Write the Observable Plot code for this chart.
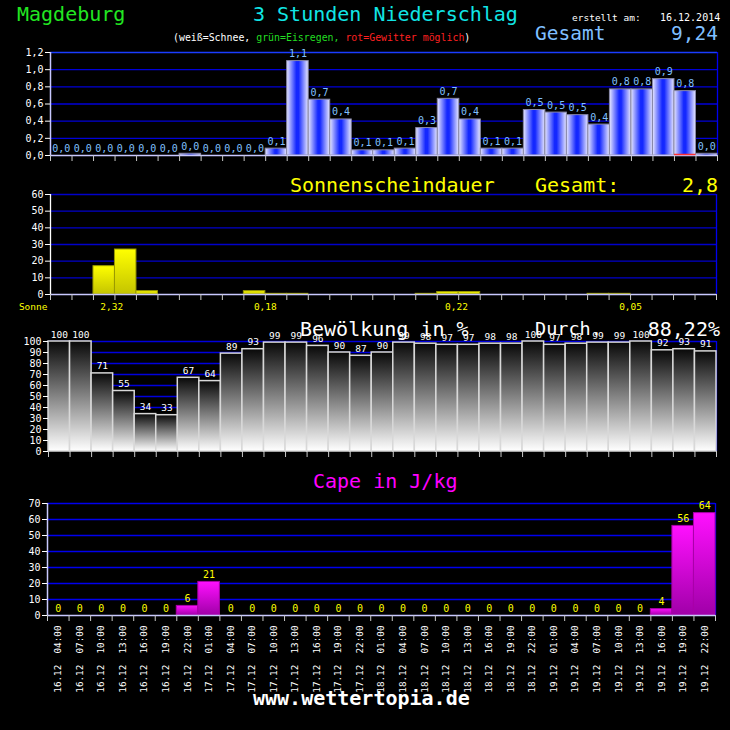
<!DOCTYPE html>
<html><head><meta charset="utf-8">
<script src="https://cdn.jsdelivr.net/npm/d3@7"></script>
<script src="https://cdn.jsdelivr.net/npm/@observablehq/plot@0.6"></script>
<style>
html,body{margin:0;padding:0;background:#000;}
#root{position:relative;width:730px;height:730px;background:#000;overflow:hidden;font-family:"DejaVu Sans Mono",monospace;}
.t{position:absolute;white-space:pre;line-height:1;font-family:"DejaVu Sans Mono",monospace;}
</style></head><body><div id="root"></div>
<script>
// ---- data ----
const times = [
 "16.12 04:00","16.12 07:00","16.12 10:00","16.12 13:00","16.12 16:00","16.12 19:00","16.12 22:00",
 "17.12 01:00","17.12 04:00","17.12 07:00","17.12 10:00","17.12 13:00","17.12 16:00","17.12 19:00","17.12 22:00",
 "18.12 01:00","18.12 04:00","18.12 07:00","18.12 10:00","18.12 13:00","18.12 16:00","18.12 19:00","18.12 22:00",
 "19.12 01:00","19.12 04:00","19.12 07:00","19.12 10:00","19.12 13:00","19.12 16:00","19.12 19:00","19.12 22:00"];
const precip = [0,0,0,0,0,0,0.02,0,0,0,0.08,1.1,0.65,0.42,0.06,0.06,0.08,0.32,0.66,0.42,0.08,0.08,0.53,0.5,0.47,0.36,0.77,0.77,0.89,0.75,0.02];
const gewitter = [29];
const sunshine = [0,0,17,27,2,0,0,0,0,2,0.4,0.4,0,0,0,0,0,0.4,1.5,1.5,0,0,0,0,0,0.4,0.4,0,0,0,0];
const sunDayLabels = ["2,32","0,18","0,22","0,05"];
const sunDayAt = [2.85, 10, 18.9, 27];
const cloud = [100,100,71,55,34,33,67,64,89,93,99,99,96,90,87,90,99,98,97,97,98,98,100,97,98,99,99,100,92,93,91];
const cape = [0,0,0,0,0,0,6,21,0,0,0,0,0,0,0,0,0,0,0,0,0,0,0,0,0,0,0,0,4,56,64];
const precipTicks = [0,0.2,0.4,0.6,0.8,1.0,1.2];
const sunTicks = [0,10,20,30,40,50,60];
const cloudTicks = [0,10,20,30,40,50,60,70,80,90,100];
const capeTicks = [0,10,20,30,40,50,60,70];

// ---- helpers ----
const root = document.getElementById("root");
const n = times.length;
const edges = d3.range(n + 1);
const fmt1 = v => (Math.round(v * 10) / 10).toFixed(1).replace(".", ",");
const common = {width: 730, style: {background: "transparent", color: "white", fontFamily: "DejaVu Sans Mono, monospace", fontSize: "10px", overflow: "visible"}};
function place(svg, top, defs) {
  svg.style.position = "absolute"; svg.style.left = "0px"; svg.style.top = top + "px";
  d3.select(svg).insert("defs", ":first-child").html(defs);
  root.appendChild(svg);
}
function label(html, x, base, size, color, opts = {}) {
  const d = document.createElement("div");
  d.className = "t"; d.innerHTML = html;
  d.style.fontSize = size + "px"; d.style.color = color;
  d.style.top = (base - 0.846 * size) + "px";
  d.style.left = x + "px";
  if (opts.right) d.style.transform = "translateX(-100%)";
  if (opts.bold) d.style.fontWeight = "bold";
  root.appendChild(d);
}
const x1 = (d, i) => i, x2 = (d, i) => i + 1, xc = (d, i) => i + 0.5;
const edgeAxis = () => Plot.axisX({ticks: edges, tickFormat: () => "", tickSize: 6, stroke: "#c8c8c8", label: null});

// ---- precipitation ----
const p1 = Plot.plot({...common, height: 125, marginTop: 12, marginBottom: 10, marginLeft: 50, marginRight: 13,
  x: {domain: [0, n]}, y: {domain: [0, d3.max(precipTicks)]},
  marks: [
    Plot.ruleY(precipTicks.slice(1, -1), {stroke: "#0000d8", strokeWidth: 1.3}),
    Plot.ruleY(precipTicks.slice(-1), {stroke: "#1a3cff", strokeWidth: 1.5}),
    Plot.ruleX([n], {stroke: "#0000ee", strokeWidth: 1.3}),
    Plot.rectY(precip, {x1, x2, y1: 0, y2: d => d, filter: d => d > 0, fill: "url(#gp)", stroke: "#8888a8", strokeWidth: 1}),
    Plot.ruleY([0], {stroke: "#c8c8ff", strokeWidth: 1.5}),
    Plot.ruleY(gewitter, {y: 0, x1: i => i, x2: i => i + 1, stroke: "#ff3030", strokeWidth: 1.5, dy: -1}),
    Plot.ruleX([0], {stroke: "#c8c8ff", strokeWidth: 1.5}),
    Plot.axisY({ticks: precipTicks, tickFormat: fmt1, tickSize: 5, tickPadding: 2, stroke: "white", fill: "white", label: null}),
    edgeAxis(),
    Plot.text(precip, {x: xc, y: d => d, text: fmt1, dy: -4, lineAnchor: "bottom", fill: "#80c0ff", fontSize: 10})
  ]});
place(p1, 40, `<linearGradient id="gp" x1="0" x2="1" y1="0" y2="0">
  <stop offset="0" stop-color="#e8e8ff"/><stop offset="0.45" stop-color="#1428ff"/>
  <stop offset="0.55" stop-color="#1428ff"/><stop offset="1" stop-color="#e8e8ff"/></linearGradient>`);

// ---- sunshine ----
const p2 = Plot.plot({...common, height: 130, marginTop: 9, marginBottom: 21, marginLeft: 50, marginRight: 14,
  x: {domain: [0, n]}, y: {domain: [0, d3.max(sunTicks)]},
  marks: [
    Plot.ruleY(sunTicks.slice(1), {stroke: "#0000cc", strokeWidth: 1.3}),
    Plot.ruleX([n], {stroke: "#0000ee", strokeWidth: 1.3}),
    Plot.rectY(sunshine, {x1, x2, y1: 0, y2: d => d, filter: d => d > 0, fill: "url(#gs)", stroke: "#9a9a00", strokeWidth: 1}),
    Plot.ruleY([0], {stroke: "#c8c8ff", strokeWidth: 1.5}),
    Plot.ruleX([0], {stroke: "white", strokeWidth: 1.3}),
    Plot.axisY({ticks: sunTicks, tickSize: 5, tickPadding: 2, stroke: "white", fill: "white", label: null}),
    edgeAxis(),
    Plot.text(sunDayLabels, {x: (d, i) => sunDayAt[i], text: d => d, frameAnchor: "bottom", dy: 15, fill: "#ffff00", fontSize: 9.5}),
    Plot.text(["Sonne"], {text: d => d, frameAnchor: "bottom-left", dx: -3, dy: 15, textAnchor: "end", fill: "#ffff00", fontSize: 9.5})
  ]});
place(p2, 185, `<linearGradient id="gs" x1="0" x2="0" y1="0" y2="1">
  <stop offset="0" stop-color="#ffff00"/><stop offset="1" stop-color="#c4c400"/></linearGradient>`);

// ---- cloud cover ----
const p3 = Plot.plot({...common, height: 140, marginTop: 21, marginBottom: 9, marginLeft: 48, marginRight: 14,
  x: {domain: [0, n]}, y: {domain: [0, d3.max(cloudTicks)]},
  marks: [
    Plot.ruleY(cloudTicks.slice(1), {stroke: "#0000dd", strokeWidth: 1.3}),
    Plot.ruleX([n], {stroke: "#0000ee", strokeWidth: 1.3}),
    Plot.rectY(cloud, {x1, x2, y1: 0, y2: d => d, fill: "url(#gc)", stroke: "#d8d8d8", strokeWidth: 1.5}),
    Plot.axisY({ticks: cloudTicks, tickSize: 5, tickPadding: 2, stroke: "white", fill: "white", label: null}),
    edgeAxis(),
    Plot.text(cloud, {x: xc, y: d => d, text: d => String(d), dy: -4, lineAnchor: "bottom", fill: "white", fontSize: 9.5})
  ]});
place(p3, 320, `<linearGradient id="gc" x1="0" x2="0" y1="0" y2="1">
  <stop offset="0" stop-color="#080808"/><stop offset="1" stop-color="#ffffff"/></linearGradient>`);

// ---- CAPE ----
const p4 = Plot.plot({...common, height: 210, marginTop: 13, marginBottom: 85, marginLeft: 47, marginRight: 15,
  x: {domain: [0, n]}, y: {domain: [0, d3.max(capeTicks)]},
  marks: [
    Plot.ruleY(capeTicks.slice(1), {stroke: "#0000ee", strokeWidth: 1.3}),
    Plot.ruleX([n], {stroke: "#0000ee", strokeWidth: 1.3}),
    Plot.rectY(cape, {x1, x2, y1: 0, y2: d => d, filter: d => d > 0, fill: "url(#gk)", stroke: "#a800a8", strokeWidth: 1}),
    Plot.ruleY([0], {stroke: "#c8c8ff", strokeWidth: 1.5}),
    Plot.ruleX([0], {stroke: "#c8c8ff", strokeWidth: 1.5}),
    Plot.axisY({ticks: capeTicks, tickSize: 5, tickPadding: 2, stroke: "white", fill: "white", label: null}),
    edgeAxis(),
    Plot.text(cape, {x: xc, y: d => d, text: d => String(d), dy: -4, lineAnchor: "bottom", fill: "#ffff00", fontSize: 10}),
    Plot.text(times, {x: xc, text: d => d.replace(" ", "\u00a0\u00a0"), frameAnchor: "bottom", rotate: -90, textAnchor: "end", lineAnchor: "middle", dy: 10, fill: "white", fontSize: 9.3})
  ]});
place(p4, 490, `<linearGradient id="gk" x1="0" x2="0" y1="0" y2="1">
  <stop offset="0" stop-color="#ff10ff"/><stop offset="1" stop-color="#a000a8"/></linearGradient>`);

// ---- texts ----
label("Magdeburg", 17, 21, 20, "#22e622");
label("3 Stunden Niederschlag", 253, 21, 20, "#11e5e5");
label("erstellt am:", 572, 21, 9.5, "#ffffff");
label("16.12.2014", 660, 21, 10, "#ffffff");
label('(weiß=Schnee, <span style="color:#22dd22">grün=Eisregen, </span><span style="color:#ff2020">rot=Gewitter möglich</span>)', 173, 41, 9.9, "#ffffff");
label("Gesamt", 535, 40, 19.5, "#7fbfff");
label("9,24", 718, 40, 19.5, "#7fbfff", {right: true});
label("Sonnenscheindauer", 290, 192, 20, "#ffff00");
label("Gesamt:", 535, 192, 20, "#ffff00");
label("2,8", 718, 192, 20, "#ffff00", {right: true});
label("Bewölkung in %", 300, 336, 20, "#ffffff");
label("Durch.", 535, 336, 18.5, "#ffffff");
label("88,22%", 720, 336, 20, "#ffffff", {right: true});
label("Cape in J/kg", 313, 488, 20, "#ff00ff");
label("www.wettertopia.de", 253, 705, 20, "#ffffff", {bold: true});
</script></body></html>
